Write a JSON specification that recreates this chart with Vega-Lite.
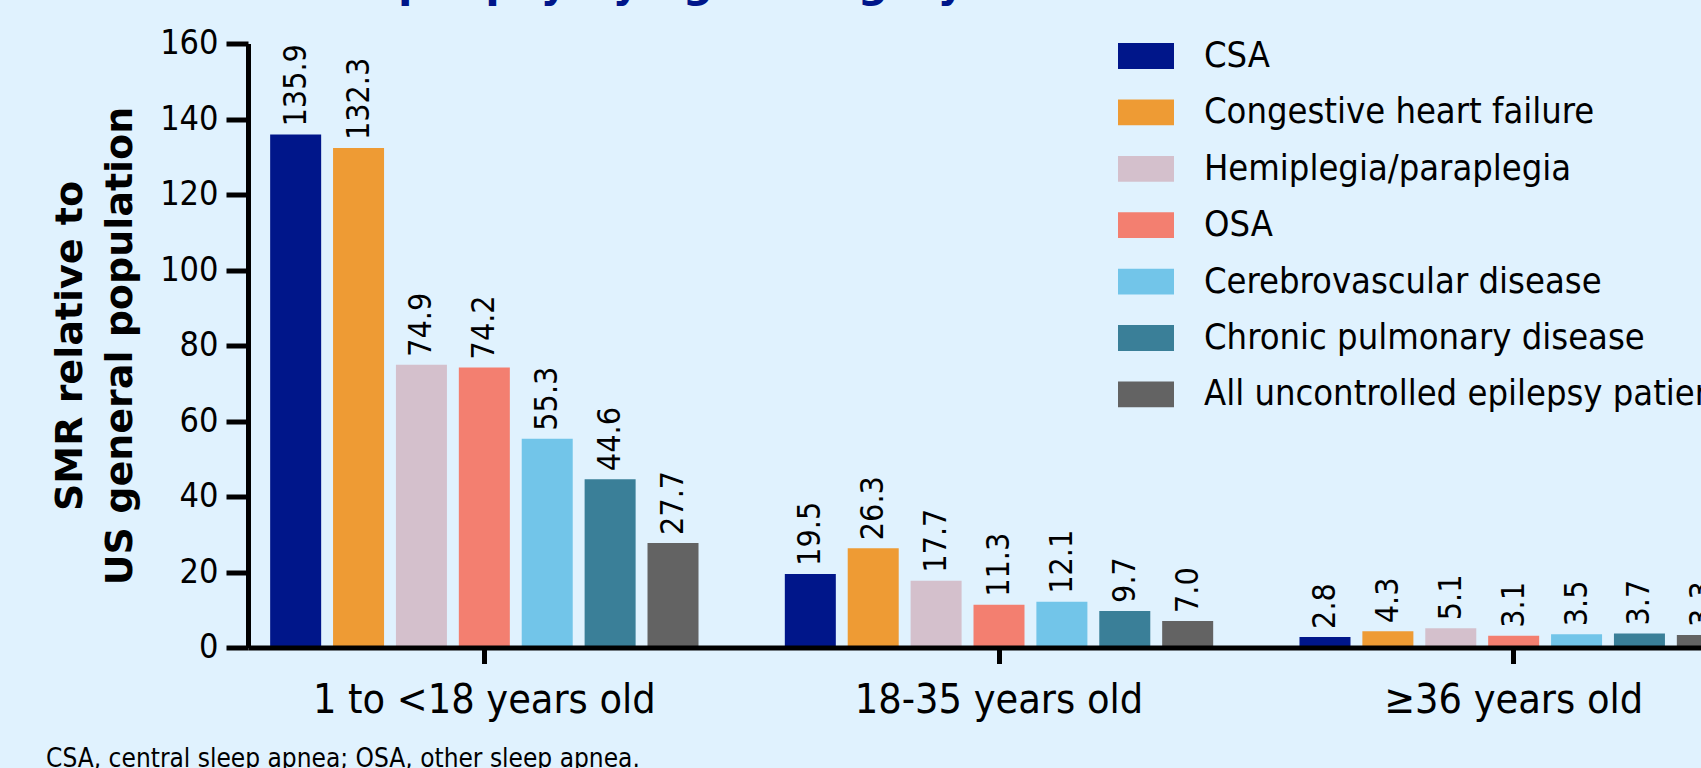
{
  "$schema": "https://vega.github.io/schema/vega-lite/v6.json",
  "width": 1453,
  "height": 604,
  "autosize": {"type": "none"},
  "padding": {"left": 248, "top": 43.5, "right": 0, "bottom": 120.5},
  "background": "#E0F2FE",
  "title": {
    "text": "SMR in uncontrolled epilepsy by age category",
    "anchor": "start",
    "frame": "group",
    "dx": -371.5,
    "dy": 20,
    "offset": 8,
    "baseline": "alphabetic",
    "font": "DejaVu Sans",
    "fontSize": 42,
    "fontWeight": "bold",
    "color": "#00168A"
  },
  "data": {
    "values": [
      {"age": "1 to <18 years old", "condition": "CSA", "smr": 135.9},
      {"age": "1 to <18 years old", "condition": "Congestive heart failure", "smr": 132.3},
      {"age": "1 to <18 years old", "condition": "Hemiplegia/paraplegia", "smr": 74.9},
      {"age": "1 to <18 years old", "condition": "OSA", "smr": 74.2},
      {"age": "1 to <18 years old", "condition": "Cerebrovascular disease", "smr": 55.3},
      {"age": "1 to <18 years old", "condition": "Chronic pulmonary disease", "smr": 44.6},
      {"age": "1 to <18 years old", "condition": "All uncontrolled epilepsy patients", "smr": 27.7},
      {"age": "18-35 years old", "condition": "CSA", "smr": 19.5},
      {"age": "18-35 years old", "condition": "Congestive heart failure", "smr": 26.3},
      {"age": "18-35 years old", "condition": "Hemiplegia/paraplegia", "smr": 17.7},
      {"age": "18-35 years old", "condition": "OSA", "smr": 11.3},
      {"age": "18-35 years old", "condition": "Cerebrovascular disease", "smr": 12.1},
      {"age": "18-35 years old", "condition": "Chronic pulmonary disease", "smr": 9.7},
      {"age": "18-35 years old", "condition": "All uncontrolled epilepsy patients", "smr": 7.0},
      {"age": "≥36 years old", "condition": "CSA", "smr": 2.8},
      {"age": "≥36 years old", "condition": "Congestive heart failure", "smr": 4.3},
      {"age": "≥36 years old", "condition": "Hemiplegia/paraplegia", "smr": 5.1},
      {"age": "≥36 years old", "condition": "OSA", "smr": 3.1},
      {"age": "≥36 years old", "condition": "Cerebrovascular disease", "smr": 3.5},
      {"age": "≥36 years old", "condition": "Chronic pulmonary disease", "smr": 3.7},
      {"age": "≥36 years old", "condition": "All uncontrolled epilepsy patients", "smr": 3.3}
    ]
  },
  "encoding": {
    "x": {
      "field": "age",
      "type": "nominal",
      "sort": ["1 to <18 years old", "18-35 years old", "≥36 years old"],
      "scale": {"range": [0, 1502], "paddingInner": 0.1446, "paddingOuter": 0.0315},
      "axis": {
        "title": "CSA, central sleep apnea; OSA, other sleep apnea.",
        "titleX": -202.4,
        "titleY": 119,
        "titleAlign": "left",
        "titleAnchor": "start",
        "titleBaseline": "alphabetic",
        "titleFont": "DejaVu Sans Condensed, DejaVu Sans",
        "titleFontSize": 26,
        "titleFontWeight": "normal",
        "titleColor": "#000000",
        "labelFont": "DejaVu Sans Condensed, DejaVu Sans",
        "labelFontSize": 41,
        "labelColor": "#000000",
        "labelAngle": 0,
        "labelLimit": 1000,
        "labelBaseline": "alphabetic",
        "labelPadding": 49,
        "tickSize": 16,
        "tickWidth": 5,
        "tickColor": "#000000",
        "domainColor": "#000000",
        "domainWidth": 5,
        "grid": false,
        "zindex": 1
      }
    },
    "xOffset": {
      "field": "condition",
      "type": "nominal",
      "sort": ["CSA", "Congestive heart failure", "Hemiplegia/paraplegia", "OSA", "Cerebrovascular disease", "Chronic pulmonary disease", "All uncontrolled epilepsy patients"],
      "scale": {"paddingInner": 0.189, "paddingOuter": 0.0945}
    },
    "y": {
      "field": "smr",
      "type": "quantitative",
      "scale": {"domain": [0, 160], "nice": false},
      "axis": {
        "title": ["SMR relative to", "US general population"],
        "titleFont": "DejaVu Sans",
        "titleFontWeight": "bold",
        "titleFontSize": 38,
        "titleLineHeight": 50,
        "titleColor": "#000000",
        "titleAngle": -90,
        "titleX": -167,
        "titleY": 302,
        "titleAlign": "center",
        "titleBaseline": "alphabetic",
        "values": [0, 20, 40, 60, 80, 100, 120, 140, 160],
        "labelFont": "DejaVu Sans Condensed, DejaVu Sans",
        "labelFontSize": 34,
        "labelColor": "#000000",
        "labelPadding": 8,
        "tickSize": 22,
        "tickWidth": 5,
        "tickColor": "#000000",
        "domainColor": "#000000",
        "domainWidth": 5,
        "grid": false,
        "zindex": 1
      }
    }
  },
  "layer": [
    {
      "mark": {"type": "bar"},
      "encoding": {
        "color": {
          "field": "condition",
          "type": "nominal",
          "scale": {
            "domain": ["CSA", "Congestive heart failure", "Hemiplegia/paraplegia", "OSA", "Cerebrovascular disease", "Chronic pulmonary disease", "All uncontrolled epilepsy patients"],
            "range": ["#00168A", "#EE9B34", "#D4C0CC", "#F37F70", "#72C5E9", "#3A7F98", "#636363"]
          },
          "legend": {
            "title": null,
            "orient": "none",
            "legendX": 870,
            "legendY": -15.5,
            "padding": 0,
            "symbolType": "M-1,-0.46H1V0.46H-1Z",
            "symbolSize": 3136,
            "symbolStrokeWidth": 0,
            "symbolOpacity": 1,
            "labelFont": "DejaVu Sans Condensed, DejaVu Sans",
            "labelFontSize": 36,
            "labelColor": "#000000",
            "labelOffset": 30,
            "labelLimit": 1000,
            "rowPadding": 10.4
          }
        }
      }
    },
    {
      "mark": {
        "type": "text",
        "angle": -90,
        "align": "left",
        "baseline": "middle",
        "dx": 8,
        "font": "DejaVu Sans Condensed, DejaVu Sans",
        "fontSize": 32,
        "color": "#000000"
      },
      "encoding": {
        "text": {"field": "smr", "type": "quantitative", "format": ".1f"}
      }
    }
  ],
  "config": {"view": {"stroke": null}}
}
